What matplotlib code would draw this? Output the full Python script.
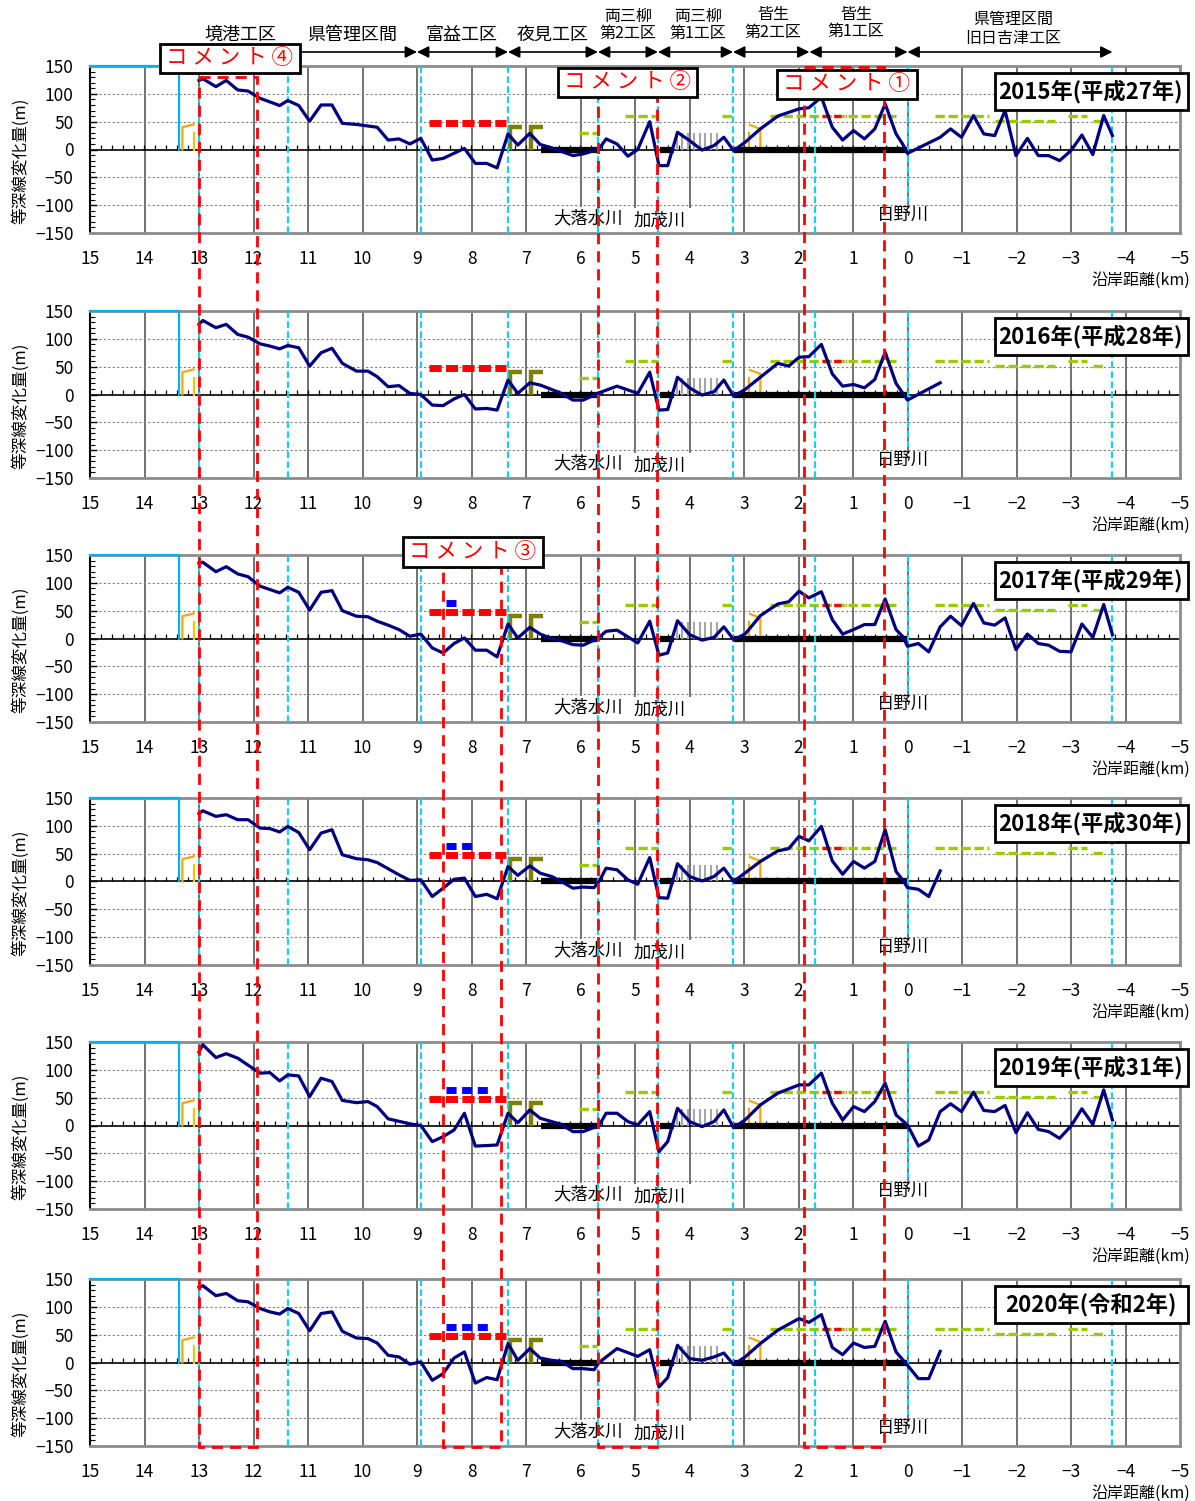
import numpy as np
import matplotlib
matplotlib.use('Agg')
import matplotlib.pyplot as plt
from matplotlib.patches import Rectangle
from matplotlib.ticker import MultipleLocator

plt.rcParams['font.family'] = ['Noto Sans CJK JP', 'DejaVu Sans']
plt.rcParams['axes.unicode_minus'] = True

N = None
# ---------------- data ----------------
KM = [13.0, 12.93, 12.69, 12.5, 12.29, 12.1, 11.88, 11.7, 11.52, 11.37,
      11.17, 10.97, 10.76, 10.56, 10.37, 10.11, 9.9, 9.73, 9.53, 9.33,
      9.13, 8.93, 8.72, 8.52, 8.32, 8.13, 7.93, 7.72, 7.53, 7.33,
      7.15, 6.93, 6.74, 6.53, 6.35, 6.14, 5.95, 5.75, 5.66, 5.53,
      5.33, 5.13, 4.95, 4.73, 4.56, 4.40, 4.22, 4.0, 3.77, 3.55,
      3.37, 3.19, 2.98, 2.70, 2.38, 2.18, 1.99, 1.81, 1.58, 1.38,
      1.19, 0.99, 0.79, 0.60, 0.41, 0.21, 0.09, 0.0, -0.2, -0.39,
      -0.6, -0.79, -0.99, -1.21, -1.4, -1.6, -1.79, -1.99, -2.2, -2.4,
      -2.59, -2.79, -3.0, -3.2, -3.4, -3.6, -3.76]

D2015 = [124, 127, 113, 124, 107, 105, 92, N, 79, 88,
         79, 51, 80, 80, 47, 45, N, 40, 17, 19,
         10, 20, -19, -16, N, 2, -25, -25, -33, 28,
         8, 29, 9, 3, N, -11, -8, N, 1, 19,
         10, -12, 0, 50, -29, -29, 31, 16, -1, 7,
         22, -2, 13, 37, 60, N, 73, 75, 94, 40,
         17, 34, 19, 37, 82, 28, 10, -7, N, N,
         22, 37, 22, 61, 28, 25, 70, -11, 20, -11,
         -11, -20, -2, 26, -9, 61, 25]

D2016 = [126, 133, 120, 126, 108, 103, 91, 87, 82, 88,
         84, 51, 75, 83, 56, 42, 42, 32, 14, 16,
         2, 0, -19, -20, -8, 0, -26, -25, -28, 26,
         2, 21, 17, 9, 2, -10, -10, N, 3, N,
         15, N, 2, 40, -28, -27, 31, 12, -1, 5,
         26, -3, 9, 31, 56, 51, 67, 68, 90, 37,
         15, 18, 12, 27, 76, 20, N, -10, N, N,
         21, N, N, N, N, N, N, N, N, N,
         N, N, N, N, N, N, N]

D2017 = [135, 137, 120, 129, 116, 111, 94, 88, 82, 92,
         83, 51, 83, 86, 50, 40, 39, 31, 24, 16,
         4, 8, -17, -26, -9, 1, -21, -21, -33, 26,
         1, 20, 8, 0, -4, -11, -12, -3, 2, 13,
         15, N, -8, 31, -30, -26, 32, 7, -3, 2,
         21, -2, 8, 41, 62, 66, 85, 73, 84, 34,
         8, 16, 25, 25, 71, 16, 4, -14, -9, -24,
         21, 40, 23, 63, 28, 24, 37, -20, 8, -9,
         -12, -23, -24, 26, 2, 61, 7]

D2018 = [122, 127, 117, 120, 111, 111, 96, 95, 89, 99,
         88, 57, 87, 93, 48, 41, 39, 34, 23, 12,
         2, 3, -27, -12, 4, 6, -27, -23, -31, 27,
         11, 28, 15, 9, 0, -12, -10, -11, 0, 24,
         21, 3, -5, 43, -29, -30, 32, 9, 1, 9,
         24, 0, N, 36, 55, 59, 81, 73, 99, 37,
         13, 36, 24, 36, 93, 18, 3, -11, -14, -27,
         19, N, N, N, N, N, N, N, N, N,
         N, N, N, N, N, N, N]

D2019 = [132, 145, 122, 129, 121, N, 94, 95, 80, 91,
         89, 52, 85, 79, 45, 41, 43, 34, 12, N,
         3, 0, -29, -20, -8, 22, -37, -36, -35, 22,
         5, 28, 13, N, 2, -11, -11, N, 0, 22,
         22, 7, 1, 25, -47, -29, 31, 7, -2, 7,
         28, -4, 10, 37, 58, N, 73, 73, 94, 40,
         10, 34, 25, 43, 76, 19, N, 1, -37, -26,
         25, 39, 25, 60, 27, 25, 36, -13, 23, -7,
         -11, -23, -1, 30, 2, 64, 10]

D2020 = [135, 138, 120, 124, 111, 109, 97, 91, 87, 97,
         88, 57, 88, 91, 56, 44, 43, 35, 13, 10,
         -3, 1, -32, -20, 8, 19, -37, -27, -31, 34,
         4, 25, 8, 4, 2, -11, -11, -13, 0, N,
         25, N, 11, 23, -44, -27, 31, 7, 4, 10,
         17, -4, 10, 34, 58, N, 79, 72, 86, 27,
         14, 35, 27, 29, 74, 19, N, -5, -29, -29,
         20, N, N, N, N, N, N, N, N, N,
         N, N, N, N, N, N, N]

PROFILES = [D2015, D2016, D2017, D2018, D2019, D2020]
YEAR_LABELS = ['2015年(平成27年)', '2016年(平成28年)', '2017年(平成29年)',
               '2018年(平成30年)', '2019年(平成31年)', '2020年(令和2年)']

BLUE_START = 8.46
BLUE_END = [N, N, 8.28, 7.97, 7.67, 7.67]
BLUE_LEVEL = 63
RED_BAR = (8.78, 7.37)
RED_LEVEL = 47
GREEN_SEGS = [(6.03, 5.70, 30), (5.18, 4.57, 61), (3.40, 3.19, 61), (2.52, 0.21, 61),
              (-0.50, -1.49, 61), (-1.60, -2.70, 51), (-2.94, -3.30, 61), (-3.40, -3.65, 51)]
RED_SHORT = (1.56, 1.13, 61)
BLACK_SEGS = [(6.72, 5.68), (4.54, 4.29), (3.19, 0.0)]
OLIVE_X = [7.30, 6.91]
OLIVE_H = 40
HATCH_X = [4.23, 4.13, 4.02, 3.92, 3.81, 3.71, 3.60, 3.50]
HATCH_H = 30
CYAN_X = [13.0, 11.37, 8.93, 7.33, 5.68, 4.58, 3.2, 1.70, -3.76]
RIVERS = [('大落水川', 5.86, -123), ('加茂川', 4.54, -128), ('日野川', 0.08, -118)]
RIVER_BOXES = [(6.65, 5.20, -103), (5.12, 3.88, -105), (0.93, -0.78, -103)]
ZONE_BOUNDS = [13.0, 11.37, 9.0, 7.33, 5.68, 4.58, 3.2, 1.8, 0.0, -3.76]
HEADER = [('境港工区', 240, 35, 13), ('県管理区間', 352, 35, 13), ('富益工区', 462, 35, 13),
          ('夜見工区', 553, 35, 13), ('両三柳', 628, 16, 11.5), ('第2工区', 628, 33, 11.5),
          ('両三柳', 698, 16, 11.5), ('第1工区', 698, 33, 11.5), ('皆生', 773, 15, 11.5),
          ('第2工区', 773, 32, 11.5), ('皆生', 856, 15, 11.5), ('第1工区', 856, 31, 11.5),
          ('県管理区間', 1013, 19, 11.5), ('旧日吉津工区', 1013, 38, 11.5)]
COMMENT_SPANS = [(13.0, 11.93, 77), (8.52, 7.45, 567), (5.67, 4.59, 96), (1.90, 0.44, 67)]
COMMENT_BOXES = [('コ メ ン ト ④', 160, 44, 140, 29), ('コ メ ン ト ③', 403, 537, 140, 30),
                 ('コ メ ン ト ②', 558, 68, 139, 29), ('コ メ ン ト ①', 777, 70, 140, 29)]

# ---------------- layout ----------------
W, H = 1195, 1501
AX_L, AX_W, AX_H = 90, 1090, 167
PANEL_TOPS = [66, 311, 555, 798, 1042, 1279]
BOTTOM_PX = 1447


def px(km):
    return AX_L + (15 - km) / 20 * AX_W


fig = plt.figure(figsize=(W / 100, H / 100), dpi=100)

for top, vals, label, bend in zip(PANEL_TOPS, PROFILES, YEAR_LABELS, BLUE_END):
    ax = fig.add_axes([AX_L / W, 1 - (top + AX_H) / H, AX_W / W, AX_H / H])
    ax.set_xlim(15, -5)
    ax.set_ylim(-150, 150)
    ax.set_xticks(np.arange(15, -6, -1))
    ax.set_yticks([150, 100, 50, 0, -50, -100, -150])
    ax.yaxis.set_minor_locator(MultipleLocator(10))
    ax.tick_params(axis='x', length=0, pad=12, labelsize=12.5)
    ax.tick_params(axis='y', which='major', direction='in', length=5, width=1,
                   pad=12, labelsize=12.5)
    ax.tick_params(axis='y', which='minor', direction='in', length=3.5, width=0.8)
    for s in ['top', 'right', 'bottom']:
        ax.spines[s].set_color('#8c8c8c')
        ax.spines[s].set_linewidth(2)
    ax.spines['left'].set_color('black')
    ax.spines['left'].set_linewidth(1.5)

    # grid
    for k in range(-4, 15):
        ax.axvline(k, color='#5a5a5a', lw=1.2, zorder=1)
    for yv in (-100, -50, 50, 100):
        ax.axhline(yv, color='#808080', lw=0.8, ls=(0, (2, 2)), zorder=1)
    ax.axhline(0, color='black', lw=1.2, zorder=2)
    ax.vlines(np.arange(-4.8, 15.0, 0.2), 0, 8, color='black', lw=0.9, zorder=2)

    # river label boxes
    for a, b, t in RIVER_BOXES:
        ax.add_patch(Rectangle((min(a, b), -150), abs(a - b), t + 150, fc='white',
                               ec='none', zorder=1.5))
    for name, xk, yv in RIVERS:
        ax.text(xk, yv, name, ha='center', va='center', fontsize=12.5, zorder=1.6)

    # structures
    ax.plot([15, 13.36, 13.36], [150, 150, 0], color='#00B0F0', lw=1.6, zorder=3,
            clip_on=False, solid_joinstyle='miter')
    ax.plot([13.305, 13.305, 13.10], [0, 40, 45], color='#FFA500', lw=1.6, zorder=3)
    ax.plot([13.10, 13.10], [0, 30], color='#FFC000', lw=1.6, zorder=3)
    ax.plot([2.91, 2.91], [0, 29], color='#FFA500', lw=1.6, zorder=3)
    ax.plot([2.89, 2.70, 2.70], [44, 37, 0], color='#FFA500', lw=1.6, zorder=3)
    for x0 in OLIVE_X:
        ax.plot([x0, x0, x0 - 0.23], [0, OLIVE_H, OLIVE_H], color='#808000', lw=3.2,
                solid_joinstyle='miter', solid_capstyle='butt', zorder=3)
    ax.vlines(HATCH_X, 0, HATCH_H, color='#A6A6A6', lw=1.5, zorder=3)
    for a, b, lev in GREEN_SEGS:
        ax.plot([a, b], [lev, lev], color='#99CC00', lw=2.4, ls=(0, (2.8, 1.1)), zorder=3)
    ax.plot(RED_SHORT[:2], [RED_SHORT[2]] * 2, color='#FF0000', lw=2.4,
            ls=(0, (2.2, 1.3)), zorder=3.2)
    for a, b in BLACK_SEGS:
        ax.plot([a, b], [0, 0], color='black', lw=4.5, solid_capstyle='butt', zorder=3.5)
    ax.plot(RED_BAR, [RED_LEVEL] * 2, color='#FF0000',
            lw=5, ls=(0, (1.75, 0.62)), dash_capstyle='butt', zorder=3.6)
    if bend is not None:
        ax.plot([BLUE_START, bend], [BLUE_LEVEL] * 2, color='#0000FF',
                lw=5, ls=(0, (1.45, 0.8)), dash_capstyle='butt', zorder=3.6)

    # cyan dashed boundaries
    for k in CYAN_X:
        ax.axvline(k, color='#19CFEF', lw=1.6, ls=(0, (3, 1.5)), zorder=4)
    ax.plot([0, 0], [150, -95], color='#19CFEF', lw=1.6, ls=(0, (3, 1.5)), zorder=4)

    # profile
    ks = [k for k, v in zip(KM, vals) if v is not None]
    vs = [v for v in vals if v is not None]
    ax.plot(ks, vs, color='#000080', lw=2.3, zorder=5)

    # year label
    ax.add_patch(Rectangle((0.830, 0.737), 0.177, 0.221, transform=ax.transAxes,
                           fc='white', ec='black', lw=2, zorder=6, clip_on=False))
    ax.text(0.918, 0.848, label, transform=ax.transAxes, ha='center', va='center',
            fontsize=16, fontweight='bold', zorder=7)

    ax.text(-0.064, 0.43, '等深線変化量(m)', rotation=90, ha='center', va='center',
            fontsize=12, transform=ax.transAxes)
    ax.text((1190 - AX_L) / AX_W, -47 / AX_H, '沿岸距離(km)', ha='right', va='center',
            fontsize=11.5, transform=ax.transAxes, clip_on=False)

# ---------------- overlay (header, comments) ----------------
ov = fig.add_axes([0, 0, 1, 1], zorder=10)
ov.set_xlim(0, W)
ov.set_ylim(H, 0)
ov.axis('off')
ov.patch.set_alpha(0)

for txt, x, y, fs in HEADER:
    ov.text(x, y, txt, ha='center', va='center', fontsize=fs)

for a, b in zip(ZONE_BOUNDS[:-1], ZONE_BOUNDS[1:]):
    ov.annotate('', xy=(px(b), 52), xytext=(px(a), 52),
                arrowprops=dict(arrowstyle='<|-|>,head_length=0.7,head_width=0.35',
                                color='black', lw=1.2, shrinkA=0, shrinkB=0))

for a, b, t in COMMENT_SPANS:
    ov.add_patch(Rectangle((px(a), t), px(b) - px(a), BOTTOM_PX - t, fill=False,
                           ec='#FF0000', lw=2, ls=(0, (4, 2.5)), zorder=2))

for txt, x, y, w, h in COMMENT_BOXES:
    ov.add_patch(Rectangle((x, y), w, h, fc='white', ec='black', lw=2, zorder=3))
    ov.text(x + w / 2, y + h / 2, txt, ha='center', va='center', fontsize=15.5,
            color='#FF0000', zorder=4)

fig.savefig('out.png', dpi=100)
